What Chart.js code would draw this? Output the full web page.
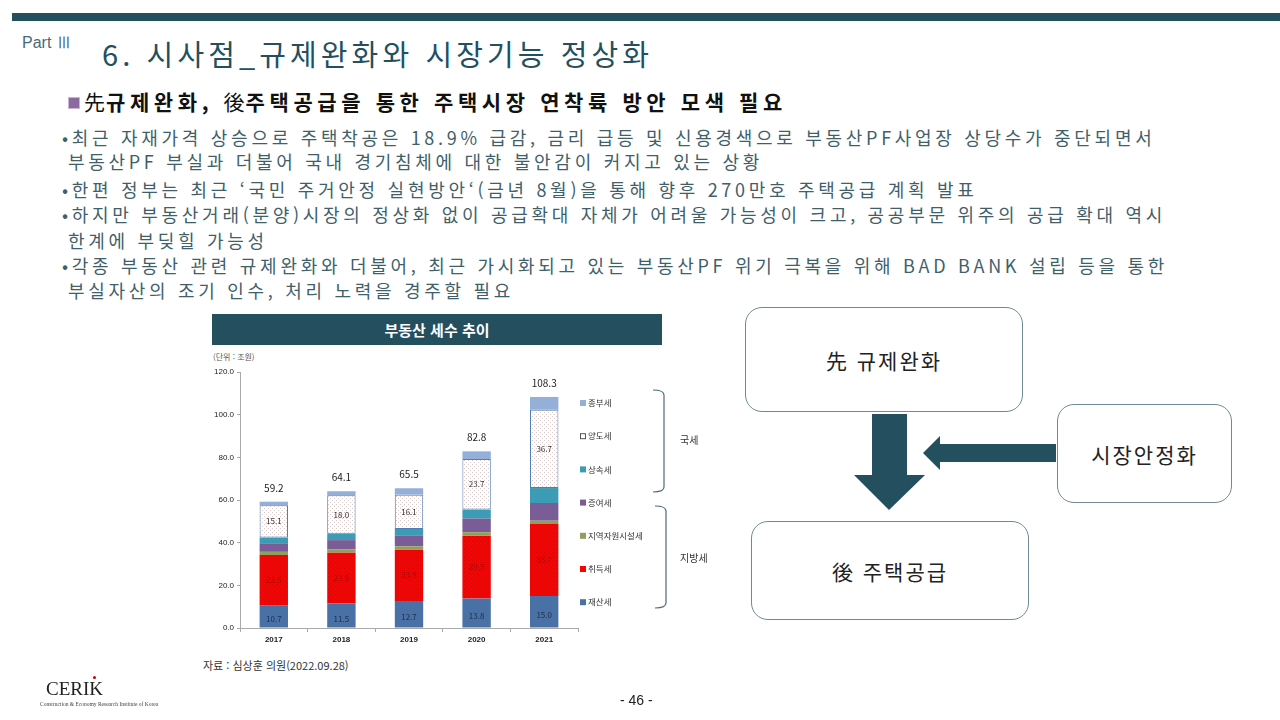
<!DOCTYPE html>
<html lang="ko">
<head>
<meta charset="utf-8">
<title>부동산 세수 추이</title>
<script src="https://cdn.jsdelivr.net/npm/chart.js@4.4.0/dist/chart.umd.min.js"></script>
<style>
  body { margin: 0; width: 1280px; height: 720px; background: #fff; position: relative; overflow: hidden;
         font-family: "Noto Sans CJK KR", "Noto Sans", sans-serif; }
  .abs { position: absolute; white-space: nowrap; }
  .topbar { left: 12px; top: 13px; width: 1268px; height: 8px; background: #234f5f; }
  .part { left: 22px; top: 33px; font-size: 16px; color: #4a6a76; font-family: "Liberation Sans", sans-serif; }
  .title { left: 102px; top: 33px; font-size: 29px; color: #234f5f; letter-spacing: 4.1px; line-height: 40px; }
  .sub { left: 68px; top: 88px; font-size: 21px; color: #111; font-weight: bold; letter-spacing: 4.6px; line-height: 26px; }
  .sub .han { font-weight: normal; letter-spacing: 1px; }
  .sub .icon { display: inline-block; width: 10px; height: 10px; background: #8b6aa0; border: 1px solid #c9b3d6;
               margin-right: 4px; vertical-align: 1px; }
  .body { font-size: 18px; color: #3f5f6b; letter-spacing: 3.7px; line-height: 20px; height: 20px; }
  .hdr { left: 212px; top: 314px; width: 450px; height: 31px; background: #234f5f; color: #fff;
         font-weight: bold; font-size: 15px; text-align: center; line-height: 31px; }
  .unit { left: 213px; top: 351px; font-size: 8px; color: #555; }
  #wrap { position: absolute; left: 200px; top: 360px; width: 520px; height: 290px; }
  .src { left: 203px; top: 657px; font-size: 11px; color: #333; }
  .box { position: absolute; border: 1px solid #6f8a92; border-radius: 17px; background: #fff;
         display: flex; align-items: center; justify-content: center; font-size: 21px; color: #222; letter-spacing: 2px; }
  .logo { left: 46px; top: 679px; font-family: "Liberation Serif", serif; font-size: 19px; line-height: 20px; color: #222; }
  .dot { left: 93px; top: 676px; width: 3px; height: 3px; border-radius: 2px; background: #c00; }
  .tag { left: 40px; top: 701px; font-family: "Liberation Serif", serif; font-size: 5.5px; line-height: 7px; color: #444; }
  .page { left: 620px; top: 692px; font-size: 14px; color: #222; font-family: "Liberation Sans", sans-serif; }
</style>
</head>
<body>
<div class="abs topbar"></div>
<div class="abs part">Part Ⅲ</div>
<div class="abs title">6. 시사점_규제완화와 시장기능 정상화</div>
<div class="abs sub"><span class="icon"></span><span class="han">先</span>규제완화, <span class="han">後</span>주택공급을 통한 주택시장 연착륙 방안 모색 필요</div>

<div class="abs body" style="left:62px;top:127px">•최근 자재가격 상승으로 주택착공은 18.9% 급감, 금리 급등 및 신용경색으로 부동산PF사업장 상당수가 중단되면서</div>
<div class="abs body" style="left:68px;top:151px">부동산PF 부실과 더불어 국내 경기침체에 대한 불안감이 커지고 있는 상황</div>
<div class="abs body" style="left:62px;top:179px">•한편 정부는 최근 ‘국민 주거안정 실현방안‘(금년 8월)을 통해 향후 270만호 주택공급 계획 발표</div>
<div class="abs body" style="left:62px;top:204px">•하지만 부동산거래(분양)시장의 정상화 없이 공급확대 자체가 어려울 가능성이 크고, 공공부문 위주의 공급 확대 역시</div>
<div class="abs body" style="left:68px;top:230px">한계에 부딪힐 가능성</div>
<div class="abs body" style="left:62px;top:255px">•각종 부동산 관련 규제완화와 더불어, 최근 가시화되고 있는 부동산PF 위기 극복을 위해 BAD BANK 설립 등을 통한</div>
<div class="abs body" style="left:68px;top:280px">부실자산의 조기 인수, 처리 노력을 경주할 필요</div>

<div class="abs hdr">부동산 세수 추이</div>
<div class="abs unit">(단위 : 조원)</div>
<div id="wrap"><canvas id="taxChart" width="520" height="290"></canvas></div>
<div class="abs src">자료 : 심상훈 의원(2022.09.28)</div>

<div class="box" style="left:745px;top:307px;width:276px;height:103px">先 규제완화</div>
<div class="box" style="left:1057px;top:404px;width:173px;height:97px">시장안정화</div>
<div class="box" style="left:751px;top:521px;width:276px;height:97px">後 주택공급</div>
<svg class="abs" style="left:0;top:0" width="1280" height="720">
  <polygon points="872,414 907,414 907,475 925,475 889,510 854,475 872,475" fill="#234f5f"/>
  <polygon points="1056,444 940,444 940,436 923,453 940,470 940,462 1056,462" fill="#234f5f"/>
</svg>

<div class="abs logo">CERIK</div>
<div class="abs dot"></div>
<div class="abs tag">Construction &amp; Economy Research Institute of Korea</div>
<div class="abs page">- 46 -</div>

<script>
/* data (조원) */
const years = ['2017', '2018', '2019', '2020', '2021'];
const propertyTax = [10.7, 11.5, 12.7, 13.8, 15.0];      // 재산세
const acquisitionTax = [23.5, 23.8, 23.9, 29.5, 33.7];  // 취득세
const regionalTax = [1.5, 1.5, 1.7, 1.6, 1.6];          // 지역자원시설세
const giftTax = [4.0, 4.4, 4.9, 6.4, 8.3];              // 증여세
const inheritTax = [2.7, 3.0, 3.2, 4.2, 7.0];           // 상속세
const transferTax = [15.1, 18.0, 16.1, 23.7, 36.7];     // 양도세
const compTax = [1.7, 1.9, 3.0, 3.6, 6.0];              // 종부세
const totals = [59.2, 64.1, 65.5, 82.8, 108.3];
const yTicks = [0, 20, 40, 60, 80, 100, 120];

function dotPattern(bg, dot) {
  const c = document.createElement('canvas');
  c.width = 4; c.height = 4;
  const g = c.getContext('2d');
  g.fillStyle = bg; g.fillRect(0, 0, 4, 4);
  g.fillStyle = dot; g.fillRect(0, 0, 1, 1); g.fillRect(2, 2, 1, 1);
  return g.createPattern(c, 'repeat');
}

const datasets = [
  { label: '재산세', data: propertyTax, backgroundColor: '#4a71a6', legendColor: '#4a71a6', valueLabel: '#1d2f4a' },
  { label: '취득세', data: acquisitionTax, backgroundColor: dotPattern('#ff0000', '#d40000'), legendColor: '#ff0000', valueLabel: '#9a1010' },
  { label: '지역자원시설세', data: regionalTax, backgroundColor: '#8fa05a', legendColor: '#8fa05a' },
  { label: '증여세', data: giftTax, backgroundColor: '#7a5c96', legendColor: '#7a5c96' },
  { label: '상속세', data: inheritTax, backgroundColor: '#3c9bb5', legendColor: '#3c9bb5' },
  { label: '양도세', data: transferTax, backgroundColor: dotPattern('#ffffff', '#d9c9c9'), legendColor: '#ffffff',
    borderColor: '#4f7db8', borderWidth: 1, borderSkipped: false, valueLabel: '#333' },
  { label: '종부세', data: compTax, backgroundColor: '#95b0d8', legendColor: '#95b0d8' }
];

/* value labels, totals, legend and brackets */
const annotate = {
  id: 'annotate',
  afterDatasetsDraw(chart) {
    const ctx = chart.ctx;
    const area = chart.chartArea;
    ctx.save();
    ctx.textAlign = 'center';
    ctx.textBaseline = 'middle';
    ctx.font = '8px "Noto Sans CJK KR", sans-serif';
    chart.data.datasets.forEach(function (ds, i) {
      if (!ds.valueLabel) return;
      chart.getDatasetMeta(i).data.forEach(function (el, j) {
        ctx.fillStyle = ds.valueLabel;
        ctx.fillText(ds.data[j].toFixed(1), el.x, (el.y + el.base) / 2 + (i === 0 ? 3 : 0));
      });
    });
    ctx.font = '10px "Noto Sans CJK KR", sans-serif';
    ctx.fillStyle = '#222';
    const top = chart.getDatasetMeta(chart.data.datasets.length - 1).data;
    top.forEach(function (el, j) {
      ctx.fillText(totals[j].toFixed(1), el.x, el.y - 14);
    });

    // legend
    ctx.textAlign = 'left';
    ctx.font = '8.5px "Noto Sans CJK KR", sans-serif';
    const items = chart.data.datasets.slice().reverse();
    items.forEach(function (ds, k) {
      const y = area.top + 31 + k * 33.2;
      const x = area.right + 2;
      ctx.fillStyle = ds.legendColor;
      ctx.fillRect(x, y - 3, 6, 6);
      if (ds.legendColor === '#ffffff') {
        ctx.strokeStyle = '#555';
        ctx.lineWidth = 1;
        ctx.strokeRect(x + 0.5, y - 2.5, 5, 5);
      }
      ctx.fillStyle = '#333';
      ctx.fillText(ds.label, x + 8, y);
    });

    // brackets
    ctx.strokeStyle = '#4d6a78';
    ctx.lineWidth = 1.2;
    function bracket(x, y0, y1) {
      ctx.beginPath();
      ctx.moveTo(x - 11, y0);
      ctx.quadraticCurveTo(x, y0, x, y0 + 5);
      ctx.lineTo(x, y1 - 5);
      ctx.quadraticCurveTo(x, y1, x - 11, y1);
      ctx.stroke();
    }
    bracket(area.right + 86, area.top + 18, area.top + 120);
    bracket(area.right + 88, area.top + 134, area.top + 236);
    ctx.font = '10px "Noto Sans CJK KR", sans-serif';
    ctx.fillStyle = '#333';
    ctx.fillText('국세', area.right + 102, area.top + 68);
    ctx.fillText('지방세', area.right + 102, area.top + 186);
    ctx.restore();
  }
};

const ctx = document.getElementById('taxChart').getContext('2d');
const chart = new Chart(ctx, {
  type: 'bar',
  data: { labels: years, datasets: datasets },
  options: {
    responsive: false,
    animation: false,
    layout: { padding: { top: 12, right: 142, left: 0, bottom: 0 } },
    datasets: { bar: { barPercentage: 0.42, categoryPercentage: 1 } },
    plugins: { legend: { display: false }, tooltip: { enabled: false } },
    scales: {
      x: {
        stacked: true,
        afterFit: function (scale) { scale.height = 22; },
        grid: { drawOnChartArea: false, tickLength: 4, color: '#aaa' },
        border: { color: '#aaa' },
        ticks: { color: '#222', font: { size: 8, weight: 'bold' }, padding: 3 }
      },
      y: {
        stacked: true,
        min: 0,
        max: 120,
        afterFit: function (scale) { scale.width = 40; },
        afterBuildTicks: function (scale) { scale.ticks = yTicks.map(function (v) { return { value: v }; }); },
        grid: { drawOnChartArea: false, tickLength: 3, color: '#aaa' },
        border: { color: '#aaa' },
        ticks: { color: '#222', font: { size: 8 }, padding: 3, callback: function (v) { return v.toFixed(1); } }
      }
    }
  },
  plugins: [annotate]
});
</script>
</body>
</html>
